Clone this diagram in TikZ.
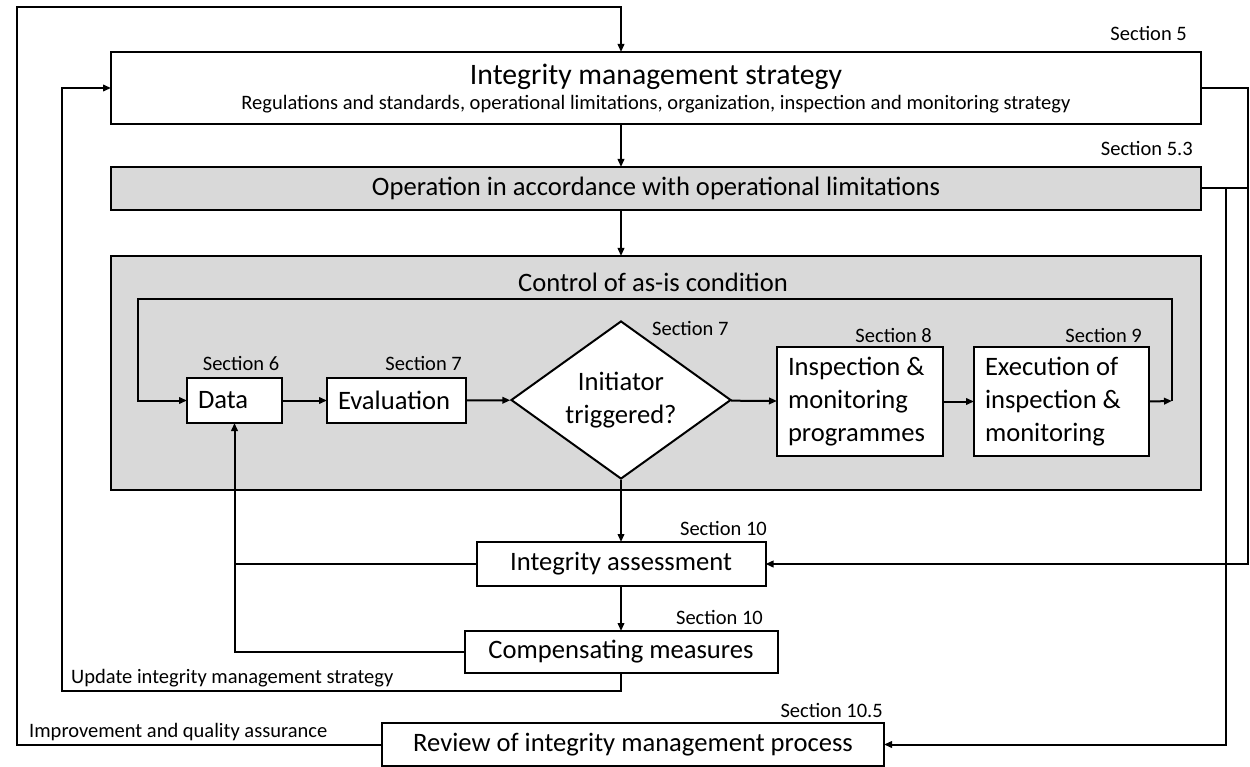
\documentclass[tikz,border=0pt]{standalone}
\usepackage{fontspec}
\setmainfont{Carlito}
\usetikzlibrary{arrows.meta,shapes.geometric}
\definecolor{boxgray}{HTML}{D9D9D9}
\newcommand\txtbig{\fontsize{26.6}{33}\selectfont}
\newcommand\txtsmall{\fontsize{20.5}{24}\selectfont}
\newcommand\txttitle{\fontsize{29.7}{35}\selectfont}
\tikzset{
  box/.style={draw, line width=2pt, inner sep=0pt, outer sep=0pt, font=\txtbig},
  flowbox/.style={box, fill=white, line width=2.4pt, inner xsep=11pt, align=flush left},
  sec/.style={inner sep=0pt, font=\txtsmall},
  link/.style={line width=2pt},
  arr/.style={link, -{Triangle[length=8pt,width=6.5pt]}}
}
\begin{document}
\begin{tikzpicture}[x=1pt,y=-1pt]
  \useasboundingbox (0,0) rectangle (1250,767);
  \node[box, minimum width=1090pt, minimum height=72pt] (strat) at (656,88) {};
  \node[inner sep=0pt, font=\txttitle] (strattitle) at (656,77) {Integrity management strategy};
  \node[sec] (stratsub) at (656,104) {Regulations and standards, operational limitations, organization, inspection and monitoring strategy};
  \node[box, fill=boxgray, minimum width=1090pt, minimum height=43pt] (oper) at (656,188.5) {Operation in accordance with operational limitations};
  \node[box, fill=boxgray, minimum width=1090pt, minimum height=234pt] (ctrl) at (656,373) {};
  \node[inner sep=0pt, font=\txtbig] (ctrltitle) at (653,282) {Control of as-is condition};

  \node[flowbox, text width=73pt, minimum height=45pt] (data) at (234.5,400.5) {Data};
  \node[flowbox, text width=117pt, minimum height=45pt] (eval) at (396.5,400.5) {Evaluation};
  \node[draw, diamond, fill=white, line width=2pt, inner sep=0pt, aspect=1.39, minimum width=220pt, minimum height=158pt, align=center, font=\txtbig] (trig) at (621,400) {Initiator\\triggered?};
  \node[flowbox, text width=144pt, minimum height=109pt] (insp) at (860,401.5) {Inspection \&\\monitoring\\programmes};
  \node[flowbox, text width=153pt, minimum height=109pt] (exec) at (1061.5,401.5) {Execution of\\inspection \&\\monitoring};
  \node[box, minimum width=289pt, minimum height=44pt] (ia) at (621,564) {Integrity assessment};
  \node[box, minimum width=313pt, minimum height=42pt] (cm) at (621,652) {Compensating measures};
  \node[box, minimum width=502pt, minimum height=43pt] (review) at (633,744.5) {Review of integrity management process};

  \node[sec, anchor=east] (sec5) at (1187,33) {Section 5};
  \node[sec, anchor=east] (sec53) at (1193,148) {Section 5.3};
  \node[sec] (sec6) at (241,363) {Section 6};
  \node[sec, anchor=east] (sec7a) at (462,363) {Section 7};
  \node[sec, anchor=west] (sec7b) at (652,328) {Section 7};
  \node[sec, anchor=east] (sec8) at (932,335) {Section 8};
  \node[sec, anchor=east] (sec9) at (1142,335) {Section 9};
  \node[sec, anchor=east] (sec10a) at (767,528) {Section 10};
  \node[sec, anchor=east] (sec10b) at (763,617) {Section 10};
  \node[sec, anchor=east] (sec105) at (883,710) {Section 10.5};
  \node[sec, anchor=west] (updlabel) at (71,678) {Update integrity management strategy};
  \node[sec, anchor=west] (implabel) at (29,732) {Improvement and quality assurance};

  \coordinate (loopR) at (1172,401);
  \draw[arr] (review.west) -| (17,7) -| ([xshift=-35pt]strat.north);
  \draw[arr] ([xshift=-35pt]strat.south) -- ([xshift=-35pt]oper.north);
  \draw[arr] ([xshift=-35pt]oper.south) -- ([xshift=-35pt]ctrl.north);
  \draw[arr] (data) -- (eval);
  \draw[arr] (eval) -- (trig);
  \draw[arr] (trig) -- (insp);
  \draw[arr] (insp) -- (exec);
  \draw[arr] (exec.east) -- (loopR);
  \draw[arr] (loopR) |- (138,299) |- (data.west);
  \draw[arr] (trig.south) -- (ia.north);
  \draw[arr] (ia) -- (cm);
  \draw[link] (ia.west) -- (ia.west -| data.south);
  \draw[arr] (cm.west) -| (data.south);
  \draw[arr] (cm.south) |- (62,691) |- (strat.west);
  \draw[arr] (strat.east) -- ++(47,0) |- (ia.east);
  \draw[link] (oper.east) -- ++(47,0);
  \draw[arr] ([xshift=25pt]oper.east) |- (review.east);
\end{tikzpicture}
\end{document}
